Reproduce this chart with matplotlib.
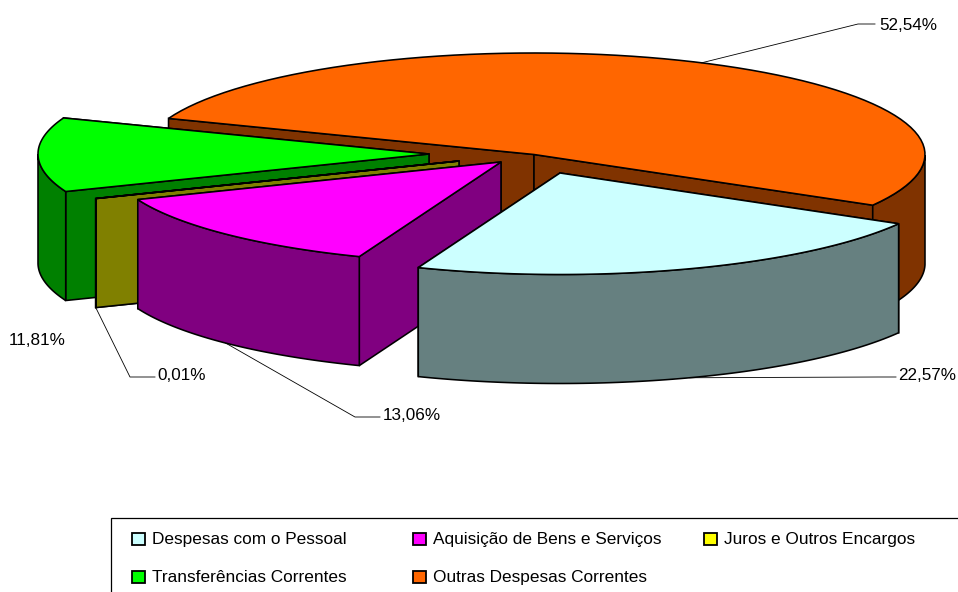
import numpy as np
from matplotlib import pyplot as plt
from matplotlib.patches import Polygon, Rectangle

categories = ['Despesas com o Pessoal', 'Aquisição de Bens e Serviços', 'Juros e Outros Encargos',
              'Transferências Correntes', 'Outras Despesas Correntes']
shares = [22.57, 13.06, 0.01, 11.81, 52.54]
share_labels = ['22,57%', '13,06%', '0,01%', '11,81%', '52,54%']

top_colors = ['#CCFFFF', '#FF00FF', '#FFFF00', '#00FF00', '#FF6600']
side_colors = ['#668080', '#800080', '#808000', '#008000', '#803300']

# pie geometry, in pixels
cx, cy = 534, 154.5
rx, ry = 391, 101.5
depth = 109
start_angle = -30
explode_x = [26, -33, -75, -105, 0]
explode_y = [18.5, 7.5, 6.5, -0.5, 0]
edge = 1.15

plt.rcParams['font.family'] = ['Liberation Sans', 'DejaVu Sans']

fig = plt.figure(figsize=(9.58, 5.92), dpi=100)
ax = fig.add_axes([0, 0, 1, 1])
ax.set_xlim(0, 958)
ax.set_ylim(592, 0)
ax.axis('off')


def arc(x0, y0, a0, a1):
    t = np.radians(np.linspace(a0, a1, 80))
    return np.c_[x0 + rx * np.cos(t), y0 - ry * np.sin(t)]


def extrude(pts):
    low = pts[::-1] + [0, depth]
    return np.vstack([pts, low])


# clockwise from start_angle, like the spreadsheet does it
ends = start_angle - np.cumsum(shares) * 3.6
starts = np.r_[start_angle, ends[:-1]]
anchors = []

# every slice is drawn back to front: orange, green, olive, magenta, cyan
for i in [4, 3, 2, 1, 0]:
    x0 = cx + explode_x[i]
    y0 = cy + explode_y[i]
    a_hi, a_lo = starts[i], ends[i]
    rim = arc(x0, y0, a_lo, a_hi)
    apex = np.array([[x0, y0]])

    faces = [np.vstack([apex, rim[:1]]), np.vstack([apex, rim[-1:]])]
    faces.sort(key=lambda f: f[1, 1])
    for f in faces:
        ax.add_patch(Polygon(extrude(f), closed=True, fc=side_colors[i], ec='black', lw=edge, zorder=i * -3 + 20))

    # outer wall, only the parts that turn towards the viewer
    t = np.linspace(a_lo, a_hi, 200)
    front = t[np.sin(np.radians(t)) <= 0]
    if len(front) > 1:
        wall = arc(x0, y0, front[0], front[-1])
        ax.add_patch(Polygon(extrude(wall), closed=True, fc=side_colors[i], ec='black', lw=edge, zorder=i * -3 + 21))

    top = np.vstack([apex, rim])
    ax.add_patch(Polygon(top, closed=True, fc=top_colors[i], ec='black', lw=edge, zorder=i * -3 + 22))

    mid = np.radians((a_lo + a_hi) / 2)
    ax_x = x0 + rx * np.cos(mid)
    ax_y = y0 - ry * np.sin(mid)
    if np.sin(mid) < 0:
        ax_y += depth
    anchors.append((i, ax_x, ax_y))

anchors = {a[0]: a[1:] for a in anchors}

# leader lines and labels
elbows = {0: (878, 377), 1: (355, 417), 2: (130, 377), 4: (858, 24)}
line_ends = {0: (896, 377), 1: (380, 417), 2: (155, 377), 4: (875, 24)}
label_pos = {0: (898, 380), 1: (383, 420), 2: (157, 380), 3: (9, 345), 4: (879, 30)}
for i in elbows:
    xs = [anchors[i][0], elbows[i][0], line_ends[i][0]]
    ys = [anchors[i][1], elbows[i][1], line_ends[i][1]]
    ax.plot(xs, ys, color='black', lw=0.6, zorder=1 if i != 4 else 30)
for i in label_pos:
    ax.text(label_pos[i][0], label_pos[i][1], share_labels[i], fontsize=12.3, va='baseline', ha='left',
            color='black', zorder=40)

# legend, runs off the right and bottom of the picture
ax.add_patch(Rectangle((111, 518), 900, 100, fc='white', ec='black', lw=0.9, zorder=2))
leg_x = [132, 413, 704]
leg_y = [539, 577]
for n, name in enumerate(categories):
    lx = leg_x[n % 3]
    ly = leg_y[n // 3]
    ax.add_patch(Rectangle((lx, ly - 6), 13, 12, fc=top_colors[n], ec='black', lw=1.3, zorder=3))
    ax.text(lx + 20, ly + 5, name, fontsize=12.4, va='baseline', ha='left', color='black', zorder=3)

fig.savefig('out.png', dpi=100)
